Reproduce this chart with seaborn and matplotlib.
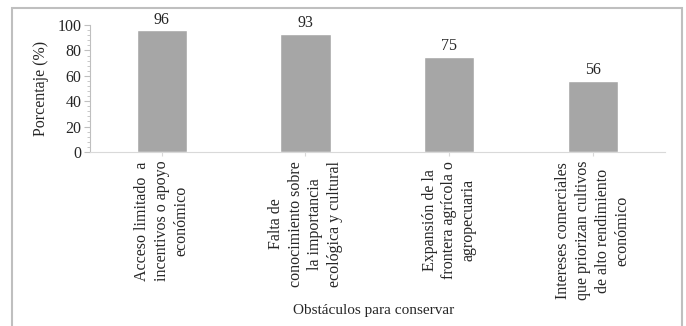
import matplotlib
matplotlib.use("Agg")
import matplotlib.pyplot as plt
from matplotlib.patches import Rectangle
from matplotlib.ticker import MultipleLocator
import seaborn as sns
import pandas as pd

categorias = [
    "Acceso limitado  a\nincentivos o apoyo\neconómico",
    "Falta de\nconocimiento sobre\nla importancia\necológica y cultural",
    "Expansión de la\nfrontera agrícola o\nagropecuaria",
    "Intereses comerciales\nque priorizan cultivos\nde alto rendimiento\neconómico",
]
porcentajes = [96, 93, 75, 56]
yticks = [0, 20, 40, 60, 80, 100]

df = pd.DataFrame({"cat": categorias, "pct": porcentajes})

sns.set_theme(style="white")
plt.rcParams["font.family"] = ["Liberation Serif", "DejaVu Serif"]

fig = plt.figure(figsize=(6.86, 3.26), dpi=100)
ax = fig.add_axes([0.131, 0.534, 0.838, 0.389])

sns.barplot(data=df, x="cat", y="pct", color="#a6a6a6", saturation=1,
            width=0.35, ax=ax)

ax.set_ylim(0, 100)
ax.set_xlim(-0.5, len(categorias) - 0.5)
ax.set_yticks(yticks)
ax.yaxis.set_minor_locator(MultipleLocator(4))
ax.tick_params(axis="y", which="major", labelsize=11.5, length=4, width=0.8,
               color="#bfbfbf", left=True, pad=2)
ax.tick_params(axis="y", which="minor", length=2.5, width=0.6,
               color="#bfbfbf", left=True)
ax.tick_params(axis="x", which="major", length=3, width=0.8,
               color="#d9d9d9", bottom=True, labelbottom=False)

for i, v in enumerate(porcentajes):
    ax.text(i, v + 2, f"{v}", ha="center", va="bottom", fontsize=11.5)
    ax.text(i, -7, categorias[i], rotation=90, ha="center", va="top",
            multialignment="center", fontsize=11.5, linespacing=1.3,
            transform=ax.transData, clip_on=False)

ax.set_xlabel("")
ax.set_ylabel("Porcentaje (%)", fontsize=11.5, labelpad=6)
fig.text(0.544, 0.049, "Obstáculos para conservar", ha="center",
         va="center", fontsize=11)

for s in ["top", "right"]:
    ax.spines[s].set_visible(False)
ax.spines["left"].set_color("#bfbfbf")
ax.spines["bottom"].set_color("#d9d9d9")
ax.spines["left"].set_linewidth(0.8)
ax.spines["bottom"].set_linewidth(0.8)

# thin frame around the whole chart area
fig.patches.append(Rectangle((12 / 686, -0.05), 670 / 686, 1 - 8 / 326 + 0.05,
                             transform=fig.transFigure, fill=False,
                             edgecolor="#bfbfbf", linewidth=1.5))

fig.savefig("out.png", dpi=100)
